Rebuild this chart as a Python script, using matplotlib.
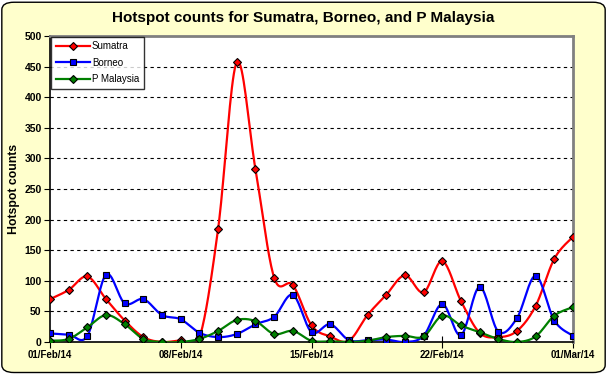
import numpy as np
import matplotlib.pyplot as plt
import matplotlib.dates as mdates
from matplotlib.patches import FancyBboxPatch
import datetime as dt

plt.rcParams['font.family'] = ['Liberation Sans', 'DejaVu Sans']

# Daily hotspot counts, 01 Feb 2014 .. 01 Mar 2014
dates = [dt.date(2014, 2, 1) + dt.timedelta(days=i) for i in range(29)]
sumatra = [70, 85, 107, 70, 35, 8, 0, 3, 7, 185, 457, 282, 105, 93, 27,
           9, 2, 44, 77, 109, 81, 132, 67, 15, 8, 18, 59, 136, 172]
borneo = [14, 12, 10, 110, 63, 70, 44, 37, 15, 8, 13, 29, 41, 77, 16,
          29, 3, 3, 4, 0, 10, 62, 11, 90, 17, 39, 108, 35, 10]
pmalaysia = [2, 5, 24, 44, 29, 5, 0, 0, 5, 18, 36, 34, 13, 18, 2,
             1, 0, 2, 8, 10, 9, 43, 27, 16, 5, 0, 9, 43, 57]
tick_dates = [dt.date(2014, 2, 1), dt.date(2014, 2, 8), dt.date(2014, 2, 15),
              dt.date(2014, 2, 22), dt.date(2014, 3, 1)]
tick_labels = ['01/Feb/14', '08/Feb/14', '15/Feb/14', '22/Feb/14', '01/Mar/14']


def excel_smooth(x, y, n=20):
    """Catmull-Rom style bezier like Excel's smoothed line."""
    x = np.asarray(x, float)
    y = np.asarray(y, float)
    px = np.concatenate([[x[0]], x, [x[-1]]])
    py = np.concatenate([[y[0]], y, [y[-1]]])
    xs, ys = [], []
    t = np.linspace(0, 1, n)
    for i in range(1, len(px) - 2):
        p0 = np.array([px[i], py[i]])
        p3 = np.array([px[i + 1], py[i + 1]])
        p1 = p0 + (p3 - np.array([px[i - 1], py[i - 1]])) / 6
        p2 = p3 - (np.array([px[i + 2], py[i + 2]]) - p0) / 6
        b = (np.outer((1 - t) ** 3, p0) + np.outer(3 * (1 - t) ** 2 * t, p1)
             + np.outer(3 * (1 - t) * t ** 2, p2) + np.outer(t ** 3, p3))
        xs.extend(b[:, 0])
        ys.extend(b[:, 1])
    return np.array(xs), np.array(ys)


fig = plt.figure(figsize=(6.07, 3.74), dpi=100)
fig.patch.set_facecolor('white')
bg = FancyBboxPatch((0.003, 0.004), 0.994, 0.99, boxstyle='round,pad=0,rounding_size=0.02',
                    transform=fig.transFigure, facecolor='#FFFFCC', edgecolor='black',
                    linewidth=1, zorder=-10)
fig.patches.append(bg)

ax = fig.add_axes([0.0824, 0.0856, 0.8616, 0.8184])
ax.set_facecolor('white')

xd = mdates.date2num(dates)
series = [
    ('Sumatra', sumatra, 'red', 'D', 4.5),
    ('Borneo', borneo, 'blue', 's', 5),
    ('P Malaysia', pmalaysia, 'green', 'D', 4.5),
]
for name, vals, col, mk, ms in series:
    sx, sy = excel_smooth(xd, vals)
    ax.plot(sx, sy, color=col, lw=1.6, zorder=3)
    ax.plot(xd, vals, linestyle='none', marker=mk, markersize=ms,
            markerfacecolor=col, markeredgecolor='black', markeredgewidth=0.8, zorder=4)
    ax.plot([], [], color=col, lw=1.6, marker=mk, markersize=ms,
            markerfacecolor=col, markeredgecolor='black', markeredgewidth=0.8, label=name)

ax.set_xlim(xd[0], xd[-1])
ax.set_ylim(0, 500)
ax.set_yticks(range(0, 501, 50))
ax.set_xticks(mdates.date2num(tick_dates))
ax.set_xticklabels(tick_labels)
for yv in range(50, 500, 50):
    ax.axhline(yv, color='black', lw=0.8, ls=(0, (3, 3)), zorder=1)

for s in ['top', 'right']:
    ax.spines[s].set_color('#808080')
    ax.spines[s].set_linewidth(2)
for s in ['left', 'bottom']:
    ax.spines[s].set_color('black')
    ax.spines[s].set_linewidth(1.2)
ax.tick_params(axis='y', direction='out', length=4, labelsize=7.5, pad=2)
ax.tick_params(axis='x', direction='inout', length=8, labelsize=7, pad=2)
for lab in ax.get_xticklabels() + ax.get_yticklabels():
    lab.set_fontweight('bold')

ax.set_ylabel('Hotspot counts', fontsize=8.8, fontweight='bold', labelpad=3)
fig.text(0.5, 0.953, 'Hotspot counts for Sumatra, Borneo, and P Malaysia',
         ha='center', va='center', fontsize=11, fontweight='bold')

leg = ax.legend(loc='upper left', bbox_to_anchor=(0.002, 0.998), fontsize=7,
                frameon=True, fancybox=False, borderpad=0.5, labelspacing=0.65,
                handlelength=3.5, handletextpad=0.2, borderaxespad=0)
leg.get_frame().set_edgecolor('black')
leg.get_frame().set_linewidth(1)

fig.savefig('out.png', dpi=100, facecolor=fig.get_facecolor())
